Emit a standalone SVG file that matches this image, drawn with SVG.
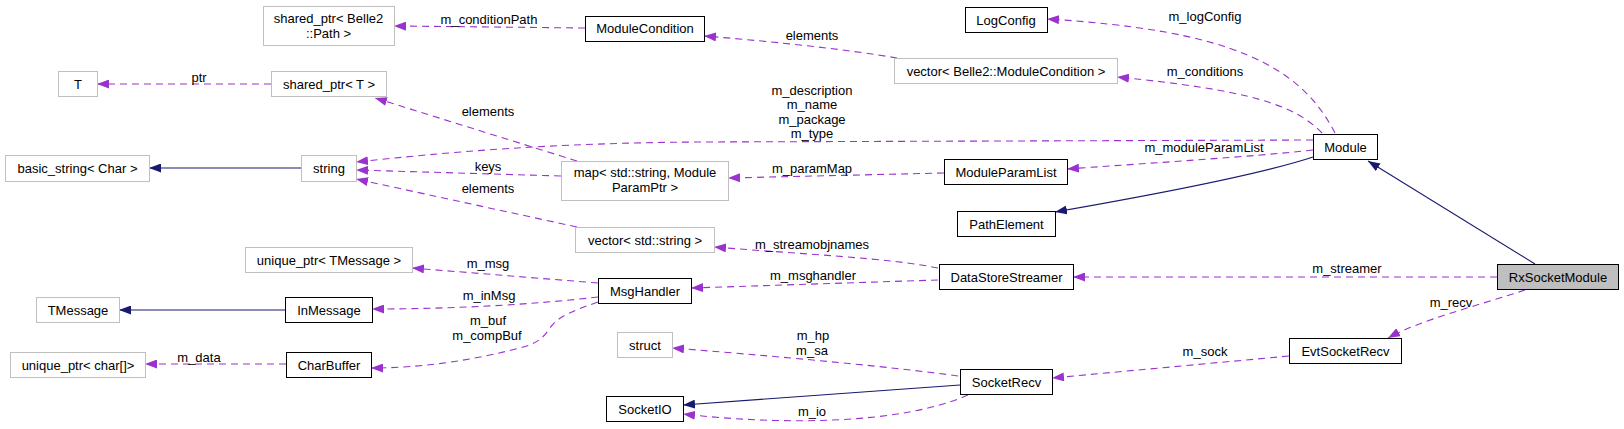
<svg xmlns="http://www.w3.org/2000/svg" width="1624" height="429" viewBox="0 0 1624 429">
<style>
text{font-family:"Liberation Sans",Arial,Helvetica,sans-serif;font-size:13px;fill:#000;text-anchor:middle}
.nb{fill:#fff;stroke:#000;stroke-width:1}
.ng{fill:#fff;stroke:#bfbfbf;stroke-width:1}
.nh{fill:#bfbfbf;stroke:#000;stroke-width:1}
.d{fill:none;stroke:#9a32cd;stroke-width:1.1;stroke-dasharray:7,5;marker-end:url(#ap)}
.s{fill:none;stroke:#191970;stroke-width:1.1;marker-end:url(#an)}
</style>
<defs>
<marker id="ap" viewBox="0 0 12 9" refX="12" refY="4.5" markerWidth="12" markerHeight="9" markerUnits="userSpaceOnUse" orient="auto"><path d="M0,0 L12,4.5 L0,9 z" fill="#9a32cd"/></marker>
<marker id="an" viewBox="0 0 12 9" refX="12" refY="4.5" markerWidth="12" markerHeight="9" markerUnits="userSpaceOnUse" orient="auto"><path d="M0,0 L12,4.5 L0,9 z" fill="#191970"/></marker>
</defs>
<rect width="1624" height="429" fill="#fff"/>
<g id="edges">
<path class="s" d="M1535,264 L1368,161"/>
<path class="s" d="M1313,157 Q1250,178 1055,212"/>
<path class="d" d="M1335,133 C1300,65 1230,30 1047,19"/>
<path class="d" d="M1322,133 C1295,105 1250,90 1117,77"/>
<path class="d" d="M897,58 C850,50 780,42 704,36"/>
<path class="d" d="M585,28 L394,26"/>
<path class="d" d="M271,84 L97,84"/>
<path class="d" d="M577,161 L375,98"/>
<path class="d" d="M1313,140 L700,142 C550,143 450,152 356,162"/>
<path class="d" d="M1313,150 C1250,157 1150,163 1067,169"/>
<path class="d" d="M561,176 L356,170"/>
<path class="d" d="M944,173 L728,178"/>
<path class="d" d="M577,227 L356,179"/>
<path class="s" d="M301,168 L149,168"/>
<path class="d" d="M938,268 C890,258 800,254 714,247"/>
<path class="d" d="M938,280 L691,288"/>
<path class="d" d="M1497,277 L1073,277"/>
<path class="d" d="M1525,290 C1480,305 1420,320 1388,338"/>
<path class="d" d="M1289,356 L1052,378"/>
<path class="d" d="M958,376 C900,368 800,358 672,348"/>
<path class="s" d="M960,385 L683,405"/>
<path class="d" d="M968,395 C900,425 780,425 683,414"/>
<path class="d" d="M598,283 L412,268"/>
<path class="d" d="M598,297 C530,305 450,309 372,309"/>
<path class="d" d="M598,302 C575,310 558,316 550,328 C542,340 535,344 520,348 C480,358 430,368 371,368"/>
<path class="s" d="M285,310 L119,310"/>
<path class="d" d="M286,364 L145,364"/>
<text x="489" y="23.5">m_conditionPath</text>
<text x="812" y="39.5">elements</text>
<text x="1205" y="20.5">m_logConfig</text>
<text x="1205" y="75.5">m_conditions</text>
<text x="199" y="81.5">ptr</text>
<text x="488" y="115.5">elements</text>
<text x="812" y="94.5">m_description</text>
<text x="812" y="108.5">m_name</text>
<text x="812" y="123.5">m_package</text>
<text x="812" y="137.5">m_type</text>
<text x="1204" y="151.5">m_moduleParamList</text>
<text x="488" y="170.5">keys</text>
<text x="812" y="172.5">m_paramMap</text>
<text x="488" y="192.5">elements</text>
<text x="812" y="248.5">m_streamobjnames</text>
<text x="488" y="267.5">m_msg</text>
<text x="1347" y="272.5">m_streamer</text>
<text x="813" y="279.5">m_msghandler</text>
<text x="489" y="299.5">m_inMsg</text>
<text x="1451" y="306.5">m_recv</text>
<text x="488" y="324.5">m_buf</text>
<text x="487" y="339.5">m_compBuf</text>
<text x="813" y="339.5">m_hp</text>
<text x="812" y="354.5">m_sa</text>
<text x="1205" y="355.5">m_sock</text>
<text x="199" y="361.5">m_data</text>
<text x="812" y="415.5">m_io</text>
</g>
<g id="n_sp_path"><rect class="ng" x="263.5" y="6.5" width="131" height="39"/><text x="328.5" y="22.5">shared_ptr&lt; Belle2</text><text x="328.5" y="37.5">::Path &gt;</text></g>
<g id="n_ModuleCondition"><rect class="nb" x="585.5" y="16.5" width="119" height="25"/><text x="645" y="33">ModuleCondition</text></g>
<g id="n_LogConfig"><rect class="nb" x="965.5" y="7.5" width="82" height="25"/><text x="1006" y="24.5">LogConfig</text></g>
<g id="n_vec_mc"><rect class="ng" x="894.5" y="58.5" width="223" height="25"/><text x="1006" y="75.5">vector&lt; Belle2::ModuleCondition &gt;</text></g>
<g id="n_T"><rect class="ng" x="58.5" y="71.5" width="39" height="25"/><text x="78" y="88.5">T</text></g>
<g id="n_sp_T"><rect class="ng" x="271.5" y="71.5" width="115" height="25"/><text x="329" y="88.5">shared_ptr&lt; T &gt;</text></g>
<g id="n_Module"><rect class="nb" x="1313.5" y="134.5" width="64" height="25"/><text x="1345.5" y="151.5">Module</text></g>
<g id="n_basic_string"><rect class="ng" x="5.5" y="155.5" width="144" height="26"/><text x="77.5" y="173">basic_string&lt; Char &gt;</text></g>
<g id="n_string"><rect class="ng" x="301.5" y="155.5" width="55" height="26"/><text x="329" y="173">string</text></g>
<g id="n_map"><rect class="ng" x="561.5" y="161.5" width="167" height="39"/><text x="645" y="176.5">map&lt; std::string, Module</text><text x="645" y="191.5">ParamPtr &gt;</text></g>
<g id="n_ModuleParamList"><rect class="nb" x="944.5" y="159.5" width="123" height="25"/><text x="1006" y="176.5">ModuleParamList</text></g>
<g id="n_PathElement"><rect class="nb" x="957.5" y="211.5" width="98" height="25"/><text x="1006.5" y="228.5">PathElement</text></g>
<g id="n_vec_str"><rect class="ng" x="575.5" y="227.5" width="139" height="25"/><text x="645" y="244.5">vector&lt; std::string &gt;</text></g>
<g id="n_up_tm"><rect class="ng" x="245.5" y="247.5" width="167" height="25"/><text x="329" y="264.5">unique_ptr&lt; TMessage &gt;</text></g>
<g id="n_MsgHandler"><rect class="nb" x="598.5" y="278.5" width="93" height="25"/><text x="645" y="295.5">MsgHandler</text></g>
<g id="n_DataStoreStreamer"><rect class="nb" x="939.5" y="264.5" width="134" height="25"/><text x="1006.5" y="281.5">DataStoreStreamer</text></g>
<g id="n_RxSocketModule"><rect class="nh" x="1497.5" y="264.5" width="121" height="25"/><text x="1558" y="281.5">RxSocketModule</text></g>
<g id="n_TMessage"><rect class="ng" x="36.5" y="297.5" width="83" height="25"/><text x="78" y="314.5">TMessage</text></g>
<g id="n_InMessage"><rect class="nb" x="285.5" y="297.5" width="87" height="25"/><text x="329" y="314.5">InMessage</text></g>
<g id="n_up_char"><rect class="ng" x="10.5" y="352.5" width="135" height="25"/><text x="78" y="369.5">unique_ptr&lt; char[]&gt;</text></g>
<g id="n_CharBuffer"><rect class="nb" x="286.5" y="352.5" width="85" height="25"/><text x="329" y="369.5">CharBuffer</text></g>
<g id="n_struct"><rect class="ng" x="617.5" y="332.5" width="55" height="25"/><text x="645" y="349.5">struct</text></g>
<g id="n_SocketIO"><rect class="nb" x="606.5" y="396.5" width="77" height="25"/><text x="645" y="413.5">SocketIO</text></g>
<g id="n_SocketRecv"><rect class="nb" x="960.5" y="369.5" width="92" height="25"/><text x="1006.5" y="386.5">SocketRecv</text></g>
<g id="n_EvtSocketRecv"><rect class="nb" x="1289.5" y="338.5" width="112" height="25"/><text x="1345.5" y="355.5">EvtSocketRecv</text></g>
</svg>
